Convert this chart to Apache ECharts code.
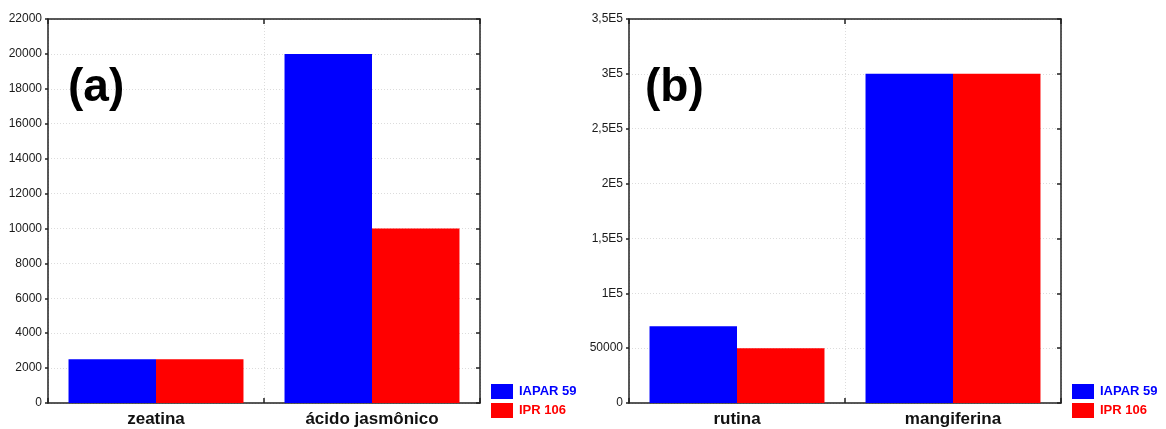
<!DOCTYPE html>
<html>
<head>
<meta charset="utf-8">
<script src="https://cdn.jsdelivr.net/npm/echarts@6/dist/echarts.min.js"></script>
<style>
  html, body { margin: 0; padding: 0; background: #fff; }
  #chart { width: 1166px; height: 429px; }
</style>
</head>
<body>
<div id="chart"></div>
<script>
// Panel (a): hormones
const categoriesA = ['zeatina', 'ácido jasmônico'];
const iaparA = [2500, 20000];
const iprA = [2500, 10000];

// Panel (b): phenolics
const categoriesB = ['rutina', 'mangiferina'];
const iaparB = [70000, 300000];
const iprB = [50000, 300000];

// Tick labels of panel (b), one per 50000 step
const tickLabelsB = ['0', '50000', '1E5', '1,5E5', '2E5', '2,5E5', '3E5', '3,5E5'];

const seriesNames = ['IAPAR 59', 'IPR 106'];
const seriesColors = ['#0000ff', '#ff0000'];

const FONT = '"Liberation Sans", Arial, sans-serif';
const AXIS_COLOR = '#222';

function bottomX(grid, cats) {
  return {
    type: 'category', gridIndex: grid, data: cats, position: 'bottom',
    axisLine: { lineStyle: { color: AXIS_COLOR, width: 1.5 } },
    axisTick: { show: true, inside: true, length: 5, lineStyle: { color: AXIS_COLOR, width: 1.5 } },
    axisLabel: { margin: 8, color: '#111', fontFamily: FONT, fontWeight: 'bold', fontSize: 17 },
    splitLine: { show: true, lineStyle: { color: '#dcdcdc', type: [1, 2], width: 1 } }
  };
}
function topX(grid, cats) {
  return {
    type: 'category', gridIndex: grid, data: cats, position: 'top',
    axisLine: { onZero: false, lineStyle: { color: AXIS_COLOR, width: 1.5 } },
    axisTick: { show: true, inside: true, length: 5, lineStyle: { color: AXIS_COLOR, width: 1.5 } },
    axisLabel: { show: false },
    splitLine: { show: false }
  };
}
function leftY(grid, max, interval, fmt) {
  return {
    type: 'value', gridIndex: grid, min: 0, max: max, interval: interval, position: 'left',
    axisLine: { show: true, lineStyle: { color: AXIS_COLOR, width: 1.5 } },
    axisTick: { show: true, inside: false, length: 3, lineStyle: { color: AXIS_COLOR, width: 1.5 } },
    axisLabel: { margin: 6, color: '#1a1a1a', fontFamily: FONT, fontSize: 12, formatter: fmt },
    splitLine: { show: true, lineStyle: { color: '#dcdcdc', type: [1, 2], width: 1 } }
  };
}
function rightY(grid, max, interval) {
  return {
    type: 'value', gridIndex: grid, min: 0, max: max, interval: interval, position: 'right',
    axisLine: { show: true, onZero: false, lineStyle: { color: AXIS_COLOR, width: 1.5 } },
    axisTick: { show: true, inside: true, length: 4, lineStyle: { color: AXIS_COLOR, width: 1.5 } },
    axisLabel: { show: false },
    splitLine: { show: false }
  };
}
function bar(name, color, data, xi, yi) {
  return {
    type: 'bar', name: name, data: data, xAxisIndex: xi, yAxisIndex: yi,
    barGap: '0%', barCategoryGap: '19%',
    itemStyle: { color: color },
    emphasis: { disabled: true }
  };
}
function legend(left) {
  return {
    left: left, top: 384, padding: 0, orient: 'vertical', itemGap: 4,
    itemWidth: 22, itemHeight: 15, icon: 'rect', selectedMode: false,
    textStyle: { fontFamily: FONT, fontWeight: 'bold', fontSize: 13, padding: [0, 0, 0, 1] },
    data: seriesNames.map((n, i) => ({ name: n, textStyle: { color: seriesColors[i] } }))
  };
}

const chart = echarts.init(document.getElementById('chart'), null, { renderer: 'canvas' });
chart.setOption({
  animation: false,
  backgroundColor: '#fff',
  grid: [
    { left: 48, right: 686, top: 19, bottom: 26 },
    { left: 629, right: 105, top: 19, bottom: 26 }
  ],
  xAxis: [bottomX(0, categoriesA), topX(0, categoriesA), bottomX(1, categoriesB), topX(1, categoriesB)],
  yAxis: [
    leftY(0, 22000, 2000, v => String(v)),
    rightY(0, 22000, 2000),
    leftY(1, 350000, 50000, v => tickLabelsB[Math.round(v / 50000)]),
    rightY(1, 350000, 50000)
  ],
  legend: [legend(491), legend(1072)],
  series: [
    bar(seriesNames[0], seriesColors[0], iaparA, 0, 0),
    bar(seriesNames[1], seriesColors[1], iprA, 0, 0),
    bar(seriesNames[0], seriesColors[0], iaparB, 2, 2),
    bar(seriesNames[1], seriesColors[1], iprB, 2, 2)
  ],
  graphic: [
    { type: 'text', left: 68, top: 65, z: 10,
      style: { text: '(a)', font: 'bold 46px ' + FONT, fill: '#000' } },
    { type: 'text', left: 645, top: 65, z: 10,
      style: { text: '(b)', font: 'bold 46px ' + FONT, fill: '#000' } }
  ]
});
</script>
</body>
</html>
